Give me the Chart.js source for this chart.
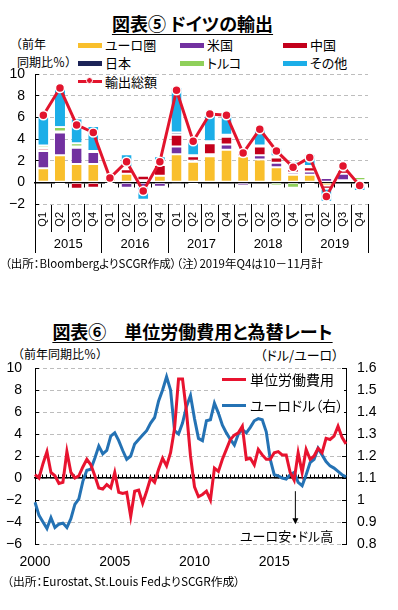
<!DOCTYPE html>
<html>
<head>
<meta charset="utf-8">
<script src="https://cdn.jsdelivr.net/npm/chart.js@4.4.1/dist/chart.umd.min.js"></script>
<style>
  body { margin: 0; background: #fff; width: 398px; height: 610px; position: relative; overflow: hidden;
         font-family: "Noto Sans CJK JP", sans-serif; color: #000; font-feature-settings: "palt"; }
  .t { position: absolute; white-space: nowrap; }
  .np { font-feature-settings: normal; font-size: 12px; line-height: 16px; }
  .title { font-weight: bold; font-size: 18px; line-height: 22px; text-decoration: underline;
           text-underline-offset: 3px; text-decoration-thickness: 1px; text-align: center; width: 385px; left: 0; }
  canvas { position: absolute; left: 0; }
  .sw { position: absolute; width: 24px; height: 5px; }
  .lg { font-size: 13px; line-height: 16px; }
</style>
</head>
<body>
<div class="t title" style="top:12px">図表⑤ ドイツの輸出</div>
<div class="t np" style="left:10px;top:36px">（前年</div>
<div class="t np" style="left:17px;top:54px">同期比％）</div>
<div id="legend1"></div>
<canvas id="c1" width="398" height="258" style="top:0"></canvas>
<div class="t" style="left:5px;top:255px;font-size:11.5px;line-height:16px">（出所：BloombergよりSCGR作成）（注）2019年Q4は10－11月計</div>

<div class="t title" style="top:320px">図表⑥　単位労働費用と為替レート</div>
<div class="t np" style="left:12px;top:346px">（前年同期比％）</div>
<div class="t" style="left:260px;top:347px;font-size:13px;line-height:16px">（ドル/ユーロ）</div>
<canvas id="c2" width="398" height="235" style="top:340px"></canvas>
<div id="legend2" style="position:absolute;left:220px;top:370px;width:124px;height:44px;background:#fff"></div>
<div class="t" style="left:240px;top:528px;font-size:13px;line-height:16px">ユーロ安・ドル高</div>
<div class="t" style="left:7px;top:573px;font-size:11.8px;line-height:16px">（出所：Eurostat、St.Louis FedよりSCGR作成）</div>

<script>
// ---- chart 1: German exports by destination (yoy %, contribution) ----
const quarterLabels = ['Q1','Q2','Q3','Q4','Q1','Q2','Q3','Q4','Q1','Q2','Q3','Q4',
                       'Q1','Q2','Q3','Q4','Q1','Q2','Q3','Q4'];
const yearLabels = ['2015','2016','2017','2018','2019'];

const euroArea = [1.3, 2.5, 1.7, 1.7, 0.5, 0.8, 0.2, 0.6, 2.6, 1.9, 2.4, 3.0, 2.4, 2.1, 1.4, 0.7, 0.7, -0.3, 0.2, -0.3];
const usa      = [1.6, 2.1, 1.5, 1.1, 0.0, -0.5, -0.4, -0.4, 0.7, 0.1, 0.2, 0.5, -0.3, 0.4, 0.4, 0.2, 0.3, 0.4, 0.6, 0.0];
const china    = [0.2, -0.2, -0.6, -0.5, -0.2, 0.4, 0.4, 1.0, 1.1, 0.4, 1.0, 0.7, 0.5, 0.8, 0.5, 0.3, 0.4, -0.3, 0.3, 0.1];
const japan    = [0.1, 0.1, 0.1, 0.0, 0.0, 0.2, 0.2, 0.1, 0.2, 0.1, 0.2, 0.2, 0.1, 0.1, 0.1, 0.1, 0.1, 0.1, 0.1, 0.1];
const turkey   = [0.2, 0.4, 0.3, 0.1, 0.0, 0.0, 0.0, 0.0, -0.1, -0.2, 0.0, 0.0, 0.0, 0.0, -0.3, -0.5, -0.2, 0.0, 0.0, 0.3];
const others   = [2.7, 3.8, 2.3, 2.3, 0.1, 1.2, -1.2, 0.7, 4.2, 1.5, 2.7, 1.9, 0.0, 1.6, 0.8, 0.6, 1.1, -1.2, 0.2, -0.5];
const totalExports = [6.2, 8.7, 5.3, 4.6, 0.4, 1.9, -0.8, 1.9, 8.5, 3.8, 6.3, 6.2, 2.7, 4.9, 2.9, 1.4, 2.3, -1.3, 1.5, -0.3];

const barSeries = [
  { name: 'ユーロ圏', data: euroArea, color: '#F9BF2C' },
  { name: '米国',     data: usa,      color: '#7231A0' },
  { name: '中国',     data: china,    color: '#C3001B' },
  { name: '日本',     data: japan,    color: '#1C2357' },
  { name: 'トルコ',   data: turkey,   color: '#8FD05A' },
  { name: 'その他',   data: others,   color: '#1CAEE8' }
];
const totalColor = '#E2142D';

// ---- chart 2: unit labour cost vs EUR/USD, 2000Q1-2019Q3 ----
const ulcYears = ['2000','2001','2002','2003','2004','2005','2006','2007','2008','2009',
                  '2010','2011','2012','2013','2014','2015','2016','2017','2018','2019'];
const ulcTickYears = ['2000','2005','2010','2015'];
const unitLabourCost = [
  0.3, 0.0, 1.3, 2.4, 0.5, 0.2, -0.5, -0.4, 2.4, 0.5,
  0.0, 0.2, 1.0, 1.7, 1.2, 0.2, -0.9, -1.0, -0.6, -0.9,
  0.5, -1.3, -1.4, -1.3, -3.5, -1.2, -1.1, -2.3, -1.2, 0.0,
  -0.4, 0.8, 1.8, 1.1, 2.3, 4.5, 9.0, 9.0, 6.0, 2.0,
  -0.8, -1.7, -1.5, -1.2, -2.0, 0.9, 0.6, 1.7, 2.6, 3.5,
  3.9, 4.1, 4.7, 1.7, 1.8, 1.2, 2.6, 2.1, 1.7, 1.7,
  2.3, 2.4, 2.1, 2.1, 0.5, -0.2, 2.3, 0.5, 2.6, 1.7,
  2.0, 2.7, 2.3, 3.6, 3.5, 3.8, 4.7, 3.7, 3.1
];
const eurUsd = [
  0.99, 0.93, 0.90, 0.87, 0.92, 0.875, 0.89, 0.895, 0.875, 0.915,
  0.98, 1.005, 1.085, 1.135, 1.14, 1.19, 1.245, 1.21, 1.225, 1.29,
  1.305, 1.27, 1.225, 1.185, 1.20, 1.255, 1.275, 1.295, 1.315, 1.35,
  1.375, 1.45, 1.50, 1.56, 1.50, 1.315, 1.30, 1.35, 1.425, 1.475,
  1.37, 1.28, 1.27, 1.36, 1.365, 1.44, 1.395, 1.34, 1.305, 1.275,
  1.25, 1.30, 1.32, 1.305, 1.33, 1.36, 1.37, 1.365, 1.31, 1.185,
  1.115, 1.11, 1.10, 1.095, 1.115, 1.125, 1.08, 1.065, 1.115, 1.17,
  1.185, 1.235, 1.205, 1.175, 1.155, 1.145, 1.13, 1.115, 1.105
];
const ulcQuarters = [];
ulcYears.forEach(y => ['Q1','Q2','Q3','Q4'].forEach(q => ulcQuarters.push(y + q)));
ulcQuarters.length = unitLabourCost.length;
const arrowNote = { index: 65.3, from: -1.2, to: -4.2 };

const numFont = { family: '"Liberation Sans", Arial, sans-serif', size: 14 };
const minus = v => String(v).replace('-', '−');

// legend for chart 1 (html, 3 columns)
const legend1 = document.getElementById('legend1');
const cols = [78, 180, 283], rows = [45, 63];
barSeries.forEach((s, i) => {
  const x = cols[i % 3], y = rows[Math.floor(i / 3)];
  legend1.insertAdjacentHTML('beforeend',
    `<div class="sw" style="left:${x}px;top:${y - 2}px;background:${s.color}"></div>` +
    `<div class="t lg" style="left:${x + 27}px;top:${y - 8}px">${s.name}</div>`);
});
legend1.insertAdjacentHTML('beforeend',
  `<div class="sw" style="left:78px;top:80px;height:3px;background:${totalColor}"></div>` +
  `<div style="position:absolute;left:86px;top:77px;width:7px;height:7px;border-radius:50%;background:${totalColor};border:1px solid #fff;box-sizing:border-box"></div>` +
  `<div class="t lg" style="left:105px;top:74px">輸出総額</div>`);

new Chart(document.getElementById('c1'), {
  type: 'bar',
  data: {
    labels: quarterLabels,
    datasets: [
      { type: 'line', label: '輸出総額', data: totalExports, stack: 'total', order: 0,
        borderColor: totalColor, backgroundColor: totalColor, borderWidth: 3, tension: 0,
        pointRadius: 4.5, pointBackgroundColor: totalColor, pointBorderColor: '#fff', pointBorderWidth: 1.5 }
    ].concat(barSeries.map(s => ({
      label: s.name, data: s.data, backgroundColor: s.color, stack: 'exp', order: 1,
      borderColor: '#fff', borderWidth: { top: 1, bottom: 1, left: 0, right: 0 }, borderSkipped: false,
      barPercentage: 0.6, categoryPercentage: 1
    })))
  },
  options: {
    responsive: false, animation: false,
    layout: { padding: { top: 74, right: 30, bottom: 5, left: 0 } },
    plugins: { legend: { display: false }, tooltip: { enabled: false } },
    scales: {
      x: { stacked: true, offset: true, weight: 0,
           grid: { offset: true, drawOnChartArea: false, tickLength: 28, color: '#000' },
           border: { display: false },
           ticks: { autoSkip: false, minRotation: 90, maxRotation: 90, padding: -20, color: '#000',
                    font: { family: numFont.family, size: 11 } },
           afterFit: s => { s.height = 28; } },
      xYear: { type: 'category', labels: yearLabels, position: 'bottom', offset: true, weight: 1,
               grid: { offset: true, drawOnChartArea: false, tickLength: 21, color: '#000' },
               border: { display: false },
               ticks: { maxRotation: 0, padding: -16, color: '#000', font: { family: numFont.family, size: 13 } },
               afterFit: s => { s.height = 21; } },
      xZero: { type: 'category', position: { y: 0 }, offset: true,
               grid: { offset: true, drawOnChartArea: false, tickLength: 4, color: '#000' },
               border: { color: '#000', width: 1.5 }, ticks: { display: false } },
      y: { stacked: true, min: -2, max: 10,
           ticks: { stepSize: 2, padding: 14, color: '#000', font: numFont, callback: minus },
           grid: { color: '#BDBDBD', tickLength: -4, tickColor: '#000', tickBorderDash: [] },
           border: { color: '#000', dash: [4, 3] },
           afterFit: s => { s.width = 35; } }
    }
  }
});

// legend for chart 2
const lineSeries = [
  { name: '単位労働費用', color: '#E8132F' },
  { name: 'ユーロドル（右）', color: '#2472B4' }
];
const legend2 = document.getElementById('legend2');
lineSeries.forEach((s, i) => {
  const y = 9 + i * 26;
  legend2.insertAdjacentHTML('beforeend',
    `<div class="sw" style="left:2px;top:${y - 1}px;height:3px;background:${s.color}"></div>` +
    `<div class="t" style="left:30px;top:${y - 9}px;font-size:14px;line-height:18px">${s.name}</div>`);
});

const arrowPlugin = {
  id: 'arrowNote',
  afterDatasetsDraw(chart) {
    const { ctx, scales } = chart;
    const px = scales.x.getPixelForValue(arrowNote.index);
    const y1 = scales.y.getPixelForValue(arrowNote.from);
    const y2 = scales.y.getPixelForValue(arrowNote.to);
    ctx.save();
    ctx.strokeStyle = '#000'; ctx.fillStyle = '#000'; ctx.lineWidth = 1;
    ctx.beginPath(); ctx.moveTo(px, y1); ctx.lineTo(px, y2 - 5); ctx.stroke();
    ctx.beginPath(); ctx.moveTo(px - 3, y2 - 6); ctx.lineTo(px + 3, y2 - 6); ctx.lineTo(px, y2); ctx.closePath(); ctx.fill();
    ctx.restore();
  }
};

new Chart(document.getElementById('c2'), {
  type: 'line',
  data: {
    labels: ulcQuarters,
    datasets: [
      { label: lineSeries[0].name, data: unitLabourCost, yAxisID: 'y', borderColor: lineSeries[0].color,
        borderWidth: 3, pointRadius: 0, tension: 0 },
      { label: lineSeries[1].name, data: eurUsd, yAxisID: 'y2', borderColor: lineSeries[1].color,
        borderWidth: 3, pointRadius: 0, tension: 0 }
    ]
  },
  options: {
    responsive: false, animation: false,
    layout: { padding: { top: 28, right: 0, bottom: 0, left: 0 } },
    plugins: { legend: { display: false }, tooltip: { enabled: false } },
    scales: {
      x: { offset: false,
           grid: { drawOnChartArea: false, drawTicks: false },
           border: { display: false },
           ticks: { autoSkip: false, maxRotation: 0, padding: 10, color: '#000', font: numFont,
                    callback: (v, i) => {
                      const lab = ulcQuarters[i];
                      return lab.endsWith('Q1') && ulcTickYears.includes(lab.slice(0, 4)) ? lab.slice(0, 4) : '';
                    } },
           afterFit: s => { s.height = 31; } },
      xZero: { type: 'category', position: { y: 0 }, offset: false,
               grid: { drawOnChartArea: false, tickLength: -4, color: '#000' },
               border: { color: '#000', width: 1.5 }, ticks: { display: false } },
      y: { position: 'left', min: -6, max: 10,
           ticks: { stepSize: 2, padding: 17, color: '#000', font: numFont, callback: minus },
           grid: { color: '#BDBDBD', tickLength: -4, tickColor: '#000', tickBorderDash: [] },
           border: { color: '#000', dash: [4, 3] },
           afterFit: s => { s.width = 35; } },
      y2: { position: 'right', min: 0.8, max: 1.6,
            ticks: { stepSize: 0.1, padding: 15, color: '#000', font: numFont,
                     callback: v => String(parseFloat(v.toFixed(1))) },
            grid: { drawOnChartArea: false, tickLength: -4, tickColor: '#000' },
            border: { color: '#000' },
            afterFit: s => { s.width = 52; } }
    }
  },
  plugins: [arrowPlugin]
});
</script>
</body>
</html>
